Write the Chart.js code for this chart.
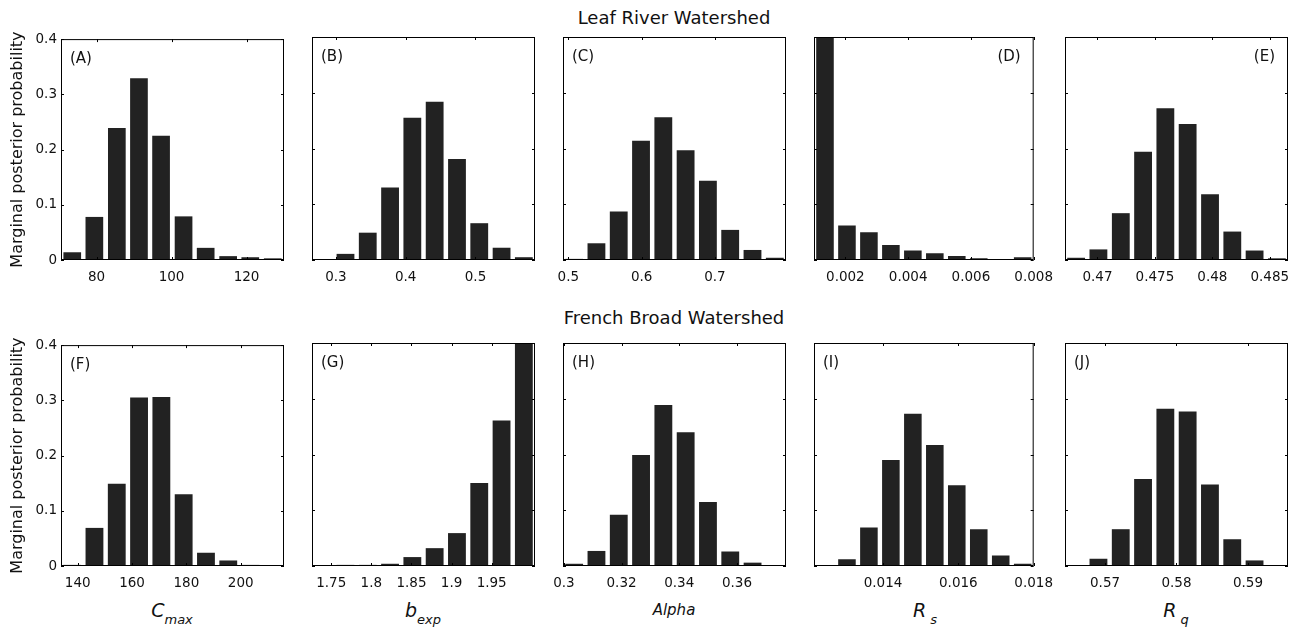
<!DOCTYPE html>
<html>
<head>
<meta charset="utf-8">
<script src="https://cdn.jsdelivr.net/npm/chart.js@4.4.1/dist/chart.umd.min.js"></script>
<style>
  body { margin: 0; background: #fff; }
  #wrap { position: relative; width: 1302px; height: 631px; overflow: hidden; font-family: 'DejaVu Sans', sans-serif; color: #111; }
  #wrap canvas { position: absolute; }
  .rowTitle { position: absolute; left: 674px; transform: translateX(-50%); font-size: 18px; line-height: 20px; white-space: nowrap; }
  .xLabel { position: absolute; top: 598px; transform: translateX(-50%); font-size: 19px; line-height: 24px; font-style: italic; white-space: nowrap; }
  .xLabel sub { font-size: 13px; vertical-align: -7px; }
</style>
</head>
<body>
<div id="wrap">
  <div class="rowTitle" style="top:8px">Leaf River Watershed</div>
  <div class="rowTitle" style="top:308px">French Broad Watershed</div>
  <div class="xLabel" style="left:172px">C<sub>max</sub></div>
  <div class="xLabel" style="left:423px">b<sub>exp</sub></div>
  <div class="xLabel" style="left:674px;font-size:15px">Alpha</div>
  <div class="xLabel" style="left:925px">R<sub>&nbsp;s</sub></div>
  <div class="xLabel" style="left:1176px">R<sub>&nbsp;q</sub></div>
</div>
<script>
// y axis (shared)
const yTicks = [0, 0.1, 0.2, 0.3, 0.4];
const yTickLabels = ['0', '0.1', '0.2', '0.3', '0.4'];

// Leaf River
const limitsA = [70.5, 130];
const binsA = [73.5, 79.4, 85.4, 91.3, 97.2, 103.2, 109.1, 115.1, 121.0, 127.0];
const probA = [0.014, 0.078, 0.239, 0.329, 0.225, 0.079, 0.022, 0.007, 0.005, 0.003];
const ticksA = [80, 100, 120];
const tickLabelsA = ['80', '100', '120'];

const limitsB = [0.2657, 0.5853];
const binsB = [0.2817, 0.3137, 0.3456, 0.3776, 0.4095, 0.4415, 0.4735, 0.5054, 0.5374, 0.5693];
const probB = [0.001, 0.011, 0.049, 0.130, 0.255, 0.284, 0.181, 0.066, 0.022, 0.005];
const ticksB = [0.3, 0.4, 0.5];
const tickLabelsB = ['0.3', '0.4', '0.5'];

const limitsC = [0.4928, 0.7969];
const binsC = [0.508, 0.5384, 0.5688, 0.5992, 0.6296, 0.66, 0.6904, 0.7208, 0.7512, 0.7816];
const probC = [0.002, 0.030, 0.087, 0.214, 0.256, 0.197, 0.142, 0.054, 0.018, 0.004];
const ticksC = [0.5, 0.6, 0.7];
const tickLabelsC = ['0.5', '0.6', '0.7'];

const limitsD = [0.001, 0.008];
const binsD = [0.00135, 0.00205, 0.00275, 0.00345, 0.00415, 0.00485, 0.00555, 0.00625, 0.00695, 0.00765];
const probD = [0.815, 0.062, 0.050, 0.027, 0.017, 0.012, 0.007, 0.003, 0.002, 0.005];
const ticksD = [0.002, 0.004, 0.006, 0.008];
const tickLabelsD = ['0.002', '0.004', '0.006', '0.008'];

const limitsE = [0.46717, 0.48659];
const binsE = [0.46814, 0.47008, 0.47203, 0.47397, 0.47591, 0.47785, 0.4798, 0.48174, 0.48368, 0.48562];
const probE = [0.004, 0.019, 0.084, 0.194, 0.272, 0.244, 0.118, 0.051, 0.017, 0.003];
const ticksE = [0.47, 0.475, 0.48, 0.485];
const tickLabelsE = ['0.47', '0.475', '0.48', '0.485'];

// French Broad
const limitsF = [133.85, 215.95];
const binsF = [137.96, 146.17, 154.38, 162.59, 170.80, 179.01, 187.22, 195.43, 203.64, 211.85];
const probF = [0.002, 0.069, 0.149, 0.305, 0.306, 0.130, 0.024, 0.010, 0.002, 0.001];
const ticksF = [140, 160, 180, 200];
const tickLabelsF = ['140', '160', '180', '200'];

const limitsG = [1.726, 2.004];
const binsG = [1.7399, 1.7677, 1.7955, 1.8233, 1.8511, 1.8789, 1.9067, 1.9345, 1.9623, 1.9901];
const probG = [0.001, 0.002, 0.002, 0.004, 0.016, 0.032, 0.059, 0.149, 0.261, 0.475];
const ticksG = [1.75, 1.8, 1.85, 1.9, 1.95];
const tickLabelsG = ['1.75', '1.8', '1.85', '1.9', '1.95'];

const limitsH = [0.2997, 0.377];
const binsH = [0.30357, 0.3113, 0.31903, 0.32676, 0.33449, 0.34222, 0.34995, 0.35768, 0.36541, 0.37314];
const probH = [0.004, 0.027, 0.092, 0.199, 0.289, 0.240, 0.115, 0.026, 0.006, 0.001];
const ticksH = [0.3, 0.32, 0.34, 0.36];
const tickLabelsH = ['0.3', '0.32', '0.34', '0.36'];

const limitsI = [0.012167, 0.018];
const binsI = [0.012458, 0.013042, 0.013625, 0.014208, 0.014792, 0.015375, 0.015958, 0.016542, 0.017125, 0.017708];
const probI = [0.002, 0.012, 0.069, 0.190, 0.273, 0.217, 0.145, 0.066, 0.019, 0.004];
const ticksI = [0.014, 0.016, 0.018];
const tickLabelsI = ['0.014', '0.016', '0.018'];

const limitsJ = [0.5644, 0.5956];
const binsJ = [0.56596, 0.56908, 0.5722, 0.57532, 0.57844, 0.58156, 0.58468, 0.5878, 0.59092, 0.59404];
const probJ = [0.001, 0.013, 0.066, 0.156, 0.282, 0.277, 0.146, 0.048, 0.010, 0.001];
const ticksJ = [0.57, 0.58, 0.59];
const tickLabelsJ = ['0.57', '0.58', '0.59'];

const panels = [
  { tag: '(A)', limits: limitsA, bins: binsA, prob: probA, ticks: ticksA, labels: tickLabelsA },
  { tag: '(B)', limits: limitsB, bins: binsB, prob: probB, ticks: ticksB, labels: tickLabelsB },
  { tag: '(C)', limits: limitsC, bins: binsC, prob: probC, ticks: ticksC, labels: tickLabelsC },
  { tag: '(D)', limits: limitsD, bins: binsD, prob: probD, ticks: ticksD, labels: tickLabelsD, right: true },
  { tag: '(E)', limits: limitsE, bins: binsE, prob: probE, ticks: ticksE, labels: tickLabelsE, right: true },
  { tag: '(F)', limits: limitsF, bins: binsF, prob: probF, ticks: ticksF, labels: tickLabelsF },
  { tag: '(G)', limits: limitsG, bins: binsG, prob: probG, ticks: ticksG, labels: tickLabelsG },
  { tag: '(H)', limits: limitsH, bins: binsH, prob: probH, ticks: ticksH, labels: tickLabelsH },
  { tag: '(I)', limits: limitsI, bins: binsI, prob: probI, ticks: ticksI, labels: tickLabelsI },
  { tag: '(J)', limits: limitsJ, bins: binsJ, prob: probJ, ticks: ticksJ, labels: tickLabelsJ }
];

Chart.defaults.font.family = "'DejaVu Sans', sans-serif";
Chart.defaults.color = '#111';

// box round the plot, inward ticks on all four sides, panel letter
const frame = {
  id: 'frame',
  afterDatasetsDraw(chart, args, opts) {
    const { ctx, chartArea: a, scales: { x, y } } = chart;
    ctx.save();
    ctx.strokeStyle = '#000';
    ctx.lineWidth = 1;
    ctx.beginPath();
    x.ticks.forEach(t => {
      const px = Math.round(x.getPixelForValue(t.value)) + 0.5;
      ctx.moveTo(px, a.bottom); ctx.lineTo(px, a.bottom - 3);
      ctx.moveTo(px, a.top); ctx.lineTo(px, a.top + 3);
    });
    y.ticks.forEach(t => {
      const py = Math.round(y.getPixelForValue(t.value)) + 0.5;
      ctx.moveTo(a.left, py); ctx.lineTo(a.left + 3, py);
      ctx.moveTo(a.right, py); ctx.lineTo(a.right - 3, py);
    });
    ctx.stroke();
    ctx.strokeRect(a.left + 0.5, a.top + 0.5, a.right - a.left - 1, a.bottom - a.top - 1);
    ctx.fillStyle = '#111';
    ctx.font = "15px 'DejaVu Sans'";
    ctx.textBaseline = 'middle';
    if (opts.right) {
      ctx.textAlign = 'right';
      ctx.fillText(opts.text, a.right - 13, a.top + 20);
    } else {
      ctx.textAlign = 'left';
      ctx.fillText(opts.text, a.left + 9, a.top + 20);
    }
    ctx.restore();
  }
};

const wrap = document.getElementById('wrap');

panels.forEach((p, i) => {
  const col = i % 5;
  const row = Math.floor(i / 5);
  const first = col === 0;
  const canvas = document.createElement('canvas');
  canvas.width = 309;
  canvas.height = 258;
  canvas.style.left = (251 * col) + 'px';
  canvas.style.top = (row === 0 ? 27 : 333) + 'px';
  wrap.appendChild(canvas);

  new Chart(canvas, {
    type: 'bar',
    data: {
      datasets: [{
        data: p.bins.map((b, k) => ({ x: b, y: p.prob[k] })),
        backgroundColor: '#222222',
        borderWidth: 0,
        barPercentage: 0.8,
        categoryPercentage: 1,
        clip: 0
      }]
    },
    options: {
      responsive: false,
      animation: false,
      devicePixelRatio: 1,
      layout: { padding: { top: 10, right: 25, left: 0, bottom: 0 } },
      plugins: {
        legend: { display: false },
        tooltip: { enabled: false },
        frame: { text: p.tag, right: !!p.right }
      },
      scales: {
        x: {
          type: 'linear',
          offset: false,
          min: p.limits[0],
          max: p.limits[1],
          grid: { display: false, drawTicks: false },
          border: { display: false },
          afterBuildTicks: s => { s.ticks = p.ticks.map(v => ({ value: v })); },
          afterFit: s => { s.height = 25; },
          ticks: {
            autoSkip: false,
            maxRotation: 0,
            padding: 9,
            font: { size: 13.5 },
            callback: (v, k) => p.labels[k]
          }
        },
        y: {
          min: 0,
          max: 0.4,
          grid: { display: false, drawTicks: false },
          border: { display: false },
          afterBuildTicks: s => { s.ticks = yTicks.map(v => ({ value: v })); },
          afterFit: s => { s.width = 61; },
          ticks: {
            display: first,
            padding: 4,
            font: { size: 13.5 },
            callback: (v, k) => yTickLabels[k]
          },
          title: {
            display: first,
            text: 'Marginal posterior probability',
            font: { size: 16 },
            padding: { top: 8, bottom: 0 }
          }
        }
      }
    },
    plugins: [frame]
  });
});
</script>
</body>
</html>
